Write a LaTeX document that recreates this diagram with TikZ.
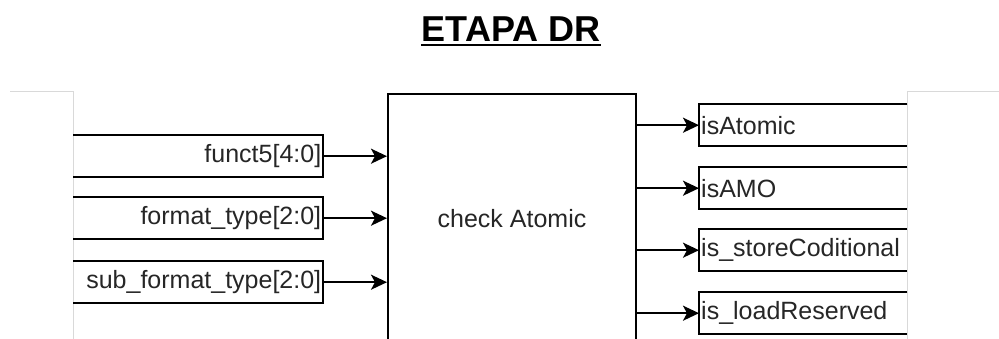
\documentclass[tikz,border=0pt]{standalone}
\usepackage{fontspec}
\setmainfont{Liberation Sans}
\usetikzlibrary{arrows.meta}
\begin{document}
\begin{tikzpicture}[x=1pt,y=-1pt,
  lbl/.style={font=\fontsize{25}{29}\selectfont, text=black!85},
  inbox/.style={lbl, anchor=north west, inner xsep=2pt, inner ysep=0pt, text width=246pt, align=right, minimum height=42pt},
  outbox/.style={lbl, anchor=north west, inner xsep=2pt, inner ysep=0pt, text width=204pt, align=left, minimum height=42pt},
  edge/.style={line width=2pt, black},
  arr/.style={line width=2pt, black, -{Stealth[length=16pt,width=15pt,inset=4pt]}},
  frame/.style={line width=1pt, black!15}
]
\useasboundingbox (0,0) rectangle (999,339);
\clip (0,0) rectangle (999,339);
\fill[white] (0,0) rectangle (999,339);

% title
\node[font=\fontsize{36}{40}\selectfont\bfseries, inner sep=0pt, anchor=base] (title) at (511,42) {ETAPA DR};
\draw[line width=2pt] ([yshift=-3.5pt]title.base west) -- ([yshift=-3.5pt]title.base east);

% side containers
\draw[frame] (10,92) -- (73,92) -- (73,345);
\draw[frame] (907,345) -- (907,92) -- (999,92);

% main block
\node[lbl, draw, line width=2pt, anchor=north west, minimum width=248pt, minimum height=250pt] (atomic) at (387,93) {check Atomic};

% inputs
\node[inbox] (fin) at (73,135) {funct5[4:0]};
\node[inbox] (ftin) at (73,197) {format\_type[2:0]};
\node[inbox] (sfin) at (73,261) {sub\_format\_type[2:0]};
\foreach \n in {fin,ftin,sfin}{
  \draw[edge] (\n.north west) -- (\n.north east) -- (\n.south east) -- (\n.south west);
  \draw[arr] (\n.east) -- (\n.east -| atomic.west);
}

% outputs
\node[outbox] (oa) at (699,104) {isAtomic};
\node[outbox] (ob) at (699,167) {isAMO};
\node[outbox] (oc) at (699,229) {is\_storeCoditional};
\node[outbox] (od) at (699,292) {is\_loadReserved};
\foreach \n in {oa,ob,oc,od}{
  \draw[edge] (\n.north east) -- (\n.north west) -- (\n.south west) -- (\n.south east);
  \draw[arr] (\n.west -| atomic.east) -- (\n.west);
}
\end{tikzpicture}
\end{document}
